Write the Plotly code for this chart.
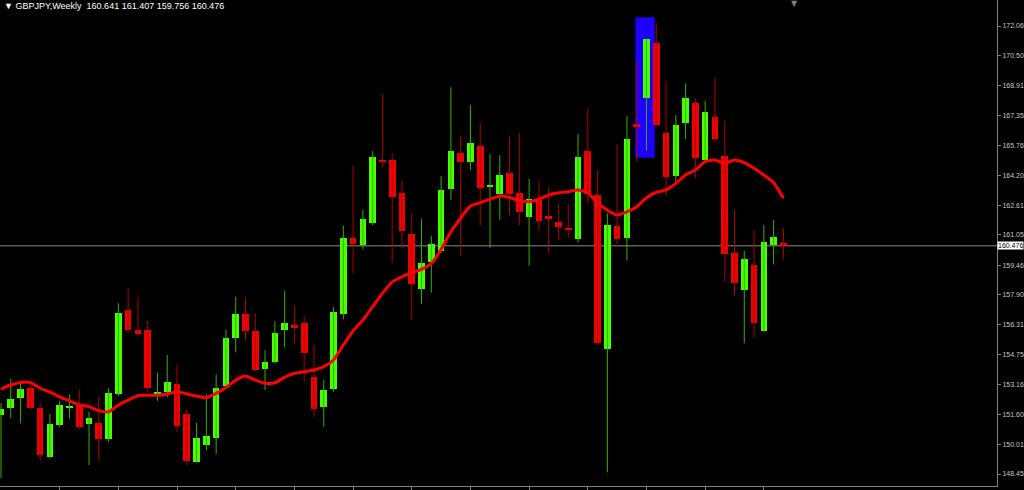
import plotly.graph_objects as go

# ---- data ----
opens = [151.56,151.91,152.44,153.00,151.94,149.35,151.05,151.97,152.05,151.07,
         151.15,150.29,152.67,157.11,156.04,156.04,152.70,152.77,153.19,151.60,
         149.07,149.96,150.36,153.10,155.63,156.90,155.99,153.97,154.35,156.04,
         156.29,156.39,153.56,152.00,152.93,156.87,160.90,160.52,161.66,165.00,
         165.00,163.24,161.11,158.18,159.62,160.22,163.47,165.37,164.88,165.74,
         163.59,163.21,164.33,163.27,161.98,162.89,162.03,161.73,161.43,160.83,
         165.46,163.14,155.04,161.54,160.91,166.88,168.25,171.18,166.44,164.15,
         166.93,168.00,165.00,167.26,165.21,160.11,158.15,159.46,155.99,160.52,
         160.641]
highs = [152.19,153.46,153.31,153.23,152.21,151.61,152.30,152.65,152.88,151.73,
         152.58,152.98,157.45,158.24,157.79,156.51,153.79,154.72,154.23,151.89,
         151.14,152.65,153.70,156.04,157.79,157.74,156.92,154.98,156.51,158.09,
         157.32,156.79,155.25,153.40,157.24,161.54,164.70,162.36,165.47,168.48,
         165.35,163.94,162.22,161.89,161.01,164.15,168.83,166.28,167.91,166.98,
         165.31,165.25,166.28,166.41,164.00,163.89,163.59,162.72,162.68,166.37,
         167.74,164.47,162.19,165.79,167.32,170.18,171.41,172.20,169.16,167.37,
         169.04,168.25,168.12,169.34,167.07,162.36,160.22,161.31,161.57,161.84,
         161.407]
lows = [148.24,151.39,151.12,151.86,149.15,149.28,150.91,151.39,150.81,148.92,
        149.19,150.14,152.56,155.93,155.69,152.79,152.31,152.49,150.68,148.92,
        149.05,149.71,149.49,153.05,154.86,155.46,153.89,152.88,154.28,155.13,
        155.30,153.35,151.47,150.94,152.79,156.60,159.03,160.29,161.57,164.64,
        159.59,160.34,156.57,157.41,158.01,160.10,162.89,159.98,164.47,161.56,
        160.38,161.84,162.10,161.56,159.43,161.26,160.08,160.78,160.92,160.66,
        162.72,155.34,148.54,160.57,159.70,164.91,165.49,166.74,163.06,163.73,
        166.10,164.03,164.97,165.96,158.58,157.83,155.34,155.65,155.96,159.50,
        159.756]
closes = [151.86,152.39,152.91,151.94,149.45,151.11,152.07,152.03,150.94,151.39,
          150.29,152.73,156.92,156.02,155.81,153.00,152.77,153.30,151.00,149.14,
          150.33,150.47,153.00,155.60,156.90,155.99,153.93,154.34,155.90,156.42,
          156.16,154.84,151.88,152.88,157.00,160.87,160.57,161.90,165.14,164.88,
          163.06,161.26,158.45,159.57,160.56,163.43,165.47,164.88,165.89,163.52,
          163.66,164.22,163.22,162.24,162.93,161.80,161.94,161.45,161.33,165.14,
          163.19,155.37,161.59,160.83,166.12,166.79,171.36,166.84,164.12,166.84,
          168.25,165.12,167.54,166.09,160.06,158.50,159.76,156.39,160.69,160.96,
          160.476]
ma_values = [152.93,153.14,153.28,153.28,152.97,152.77,152.52,152.31,152.09,152.00,
             151.79,151.73,152.09,152.35,152.58,152.60,152.60,152.67,152.79,152.67,
             152.56,152.47,152.70,153.01,153.40,153.62,153.40,153.23,153.26,153.55,
             153.76,153.84,153.93,154.11,154.46,155.25,155.99,156.57,157.27,157.97,
             158.58,158.85,159.06,159.24,159.55,160.29,161.22,161.93,162.57,162.75,
             162.93,163.10,163.03,162.85,162.80,162.93,163.15,163.27,163.33,163.42,
             163.27,162.72,162.36,162.10,162.27,162.54,163.01,163.30,163.42,163.77,
             164.21,164.47,164.91,165.00,164.82,165.00,164.86,164.56,164.21,163.80,
             162.98]
y_ticks = [172.06,170.50,168.91,167.35,165.76,164.20,162.61,161.05,
           159.46,157.90,156.31,154.75,153.16,151.60,150.01,148.45]
y_ticktext = ["172.06","170.50","168.91","167.35","165.76","164.20","162.61","161.05",
              "159.46","157.90","156.31","154.75","153.16","151.60","150.01","148.45"]
x_ticks = [6,12,18,24,30,36,42,48,54,60,66,72,78]
symbol_label = "GBPJPY,Weekly"
last_price = 160.476
box_x = [64.87, 66.84]
box_y = [165.12, 172.52]

GREEN = "#46FF00"
RED = "#F00000"
GREEN_WICK = "#35B000"
RED_WICK = "#B00000"

idx = list(range(len(opens)))

fig = go.Figure()

def wick_xy(up):
    xs, ys = [], []
    for i in idx:
        if (closes[i] >= opens[i]) == up:
            xs += [i, i, None]
            ys += [lows[i], highs[i], None]
    return xs, ys

for up, col in [(True, GREEN_WICK), (False, RED_WICK)]:
    wx, wy = wick_xy(up)
    fig.add_trace(go.Scatter(x=wx, y=wy, mode="lines",
                             line=dict(color=col, width=1),
                             hoverinfo="skip", showlegend=False))

for up, col in [(True, GREEN), (False, RED)]:
    bx, bbase, bh = [], [], []
    for i in idx:
        if (closes[i] >= opens[i]) == up:
            lo = min(opens[i], closes[i])
            hi = max(opens[i], closes[i])
            bx.append(i)
            bbase.append(lo)
            bh.append(hi - lo)
    fig.add_trace(go.Bar(x=bx, y=bh, base=bbase, width=0.68,
                         marker=dict(color=col, line=dict(width=0)),
                         showlegend=False))

fig.add_trace(go.Scatter(x=idx, y=ma_values, mode="lines",
                         line=dict(color="#FF0000", width=3, shape="spline", smoothing=0.6),
                         showlegend=False, hoverinfo="skip"))

# blue rectangle object (behind candles)
fig.add_shape(type="rect", xref="x", yref="y",
              x0=box_x[0], x1=box_x[1], y0=box_y[0], y1=box_y[1],
              fillcolor="#1E00FF", line=dict(width=0), layer="below")
# current price line
fig.add_shape(type="line", xref="paper", yref="y", x0=0, x1=1,
              y0=last_price, y1=last_price,
              line=dict(color="#8C8C8C", width=1), layer="below")

title_text = (f"{symbol_label}  {opens[-1]:.3f} {highs[-1]:.3f} "
              f"{lows[-1]:.3f} {closes[-1]:.3f}")
fig.add_annotation(xref="paper", yref="paper", x=0, y=1, xanchor="left", yanchor="top",
                   xshift=2, yshift=1,
                   text="\u25BC " + title_text, showarrow=False,
                   font=dict(family="Liberation Sans", size=9, color="#FFFFFF"))
fig.add_annotation(xref="paper", yref="y", x=1, y=last_price, xanchor="left",
                   yanchor="middle", xshift=0,
                   text=f"{last_price:.3f}", showarrow=False,
                   bgcolor="#FFFFFF", borderpad=0,
                   font=dict(family="Liberation Sans", size=7, color="#000000"))
fig.add_annotation(xref="paper", yref="paper", x=0.797, y=1, xanchor="center",
                   yanchor="top", yshift=3,
                   text="\u25BC", showarrow=False,
                   font=dict(family="DejaVu Sans", size=8, color="#808080"))

fig.update_layout(
    width=1024, height=490,
    margin=dict(l=0, r=27, t=0, b=4),
    paper_bgcolor="#000000", plot_bgcolor="#000000",
    barmode="overlay", bargap=0,
    showlegend=False,
    hovermode=False,
    xaxis=dict(range=[-0.102, 101.84], showgrid=False, zeroline=False,
               showline=True, linecolor="#808080", linewidth=1,
               tickvals=x_ticks, ticks="outside", ticklen=4, tickcolor="#808080",
               showticklabels=False, fixedrange=True),
    yaxis=dict(range=[147.82, 173.43], side="right", showgrid=False, zeroline=False,
               showline=True, linecolor="#808080", linewidth=1,
               tickvals=y_ticks, ticktext=y_ticktext, ticks="outside", ticklen=3,
               tickcolor="#808080",
               tickfont=dict(family="Liberation Sans", size=7, color="#C8C8C8"),
               fixedrange=True),
)

fig.write_html("out.html", config={"displayModeBar": False},
               post_script="document.body.style.margin='0';document.body.style.background='#000';")
